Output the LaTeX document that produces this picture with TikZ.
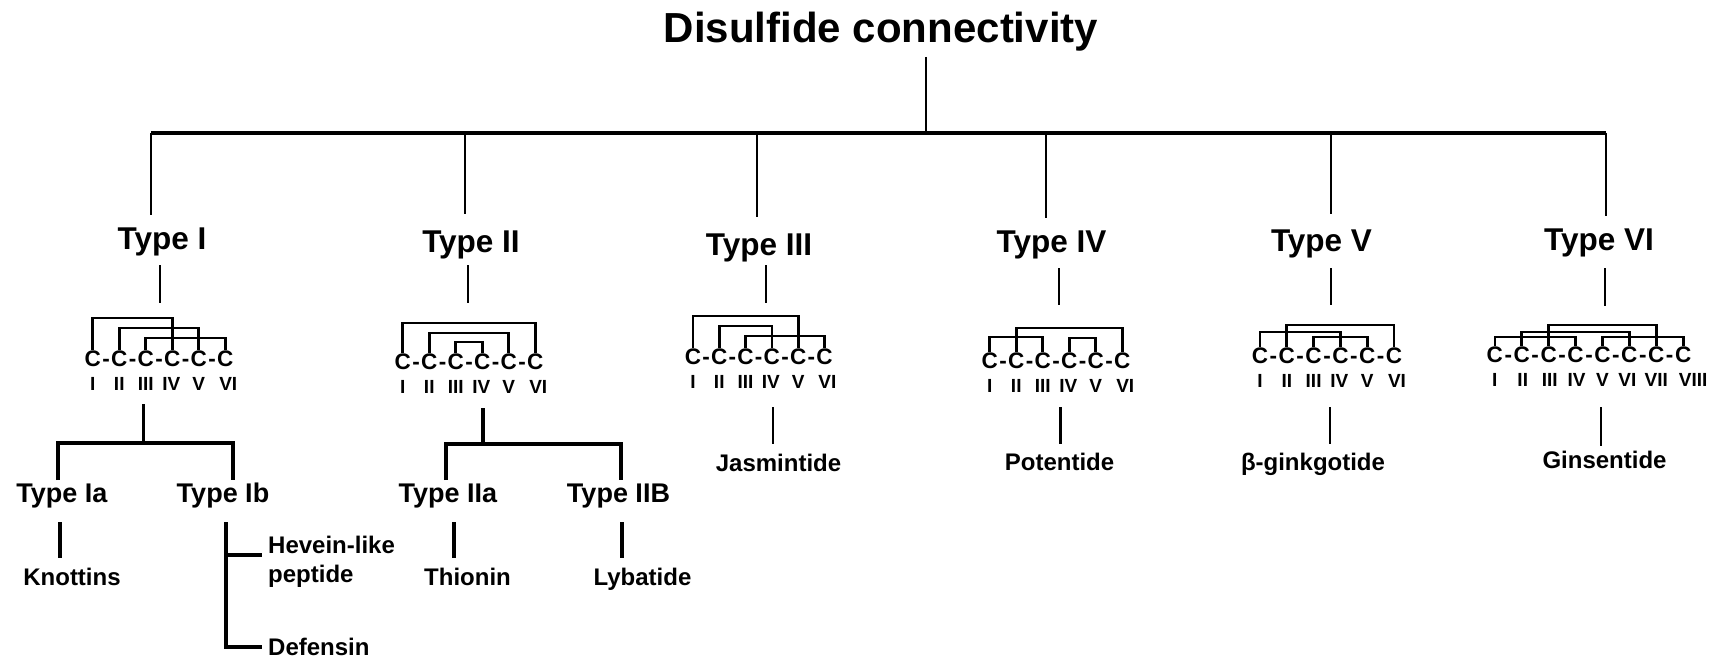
\documentclass[tikz,border=0pt]{standalone}
\usepackage{fontspec}
\setmainfont{Liberation Sans}
\tikzset{
  txt/.style={inner sep=0pt, anchor=base},
  titletxt/.style={txt, font=\fontsize{42}{50}\selectfont\bfseries},
  typetxt/.style={txt, font=\fontsize{31.5}{36}\selectfont\bfseries},
  subtxt/.style={txt, font=\fontsize{27}{32}\selectfont\bfseries},
  leaftxt/.style={txt, font=\fontsize{24}{29}\selectfont\bfseries},
  ctxt/.style={txt, font=\fontsize{22.5}{26}\selectfont\bfseries},
  numtxt/.style={txt, font=\fontsize{19}{23}\selectfont\bfseries},
  barline/.style={line width=4.5pt},
  stem/.style={line width=2.8pt},
  subline/.style={line width=3.3pt},
  bondline/.style={line width=2.7pt},
}
% #1 name, #2 cx, #3 cy, #4 spacing, #5 (n+1)/2, #6 list k/roman/numeral shift
\newcommand{\cchain}[6]{%
  \foreach \k/\r/\s in {#6}{
    \node[ctxt] (#1c\k) at ({#2+(\k-#5)*#4},{#3+8}) {C};
    \node[numtxt] (#1n\k) at ({#2+(\k-#5)*#4+\s},{#3+32}) {\r};
    \coordinate (#1l\k) at ({#2+(\k-#5)*#4},{#3-8.5});
    \ifnum\k>1
      \node[ctxt] (#1h\k) at ({#2+(\k-#5-0.5)*#4},{#3+8}) {-};
    \fi
  }%
}
\newcommand{\bond}[4]{%
  \path (0,#4) coordinate (lvl);
  \draw[bondline] (#1l#2) -- (#1l#2 |- lvl) -| (#1l#3);%
}
\begin{document}
\begin{tikzpicture}[x=1pt,y=-1pt]
\useasboundingbox (0,0) rectangle (1719,658);

% title and main bar
\node[titletxt] (title) at (881,43) {Disulfide connectivity};
\coordinate (root) at (926,57);
\coordinate (barL) at (151,133);
\coordinate (barR) at (1606,133);
\draw[stem] (root) -- (root |- barL);
\draw[barline] (barL) -- (barR);

\foreach \n/\x/\yb in {1/151/215,2/465/214,3/757/217,4/1046/218,5/1331/214,6/1606/216}{
  \coordinate (dropa\n) at (\x,133);
  \coordinate (dropb\n) at (\x,\yb);
  \draw[stem] (dropa\n) -- (dropb\n);
}

% type labels
\node[typetxt] (T1) at (162,249) {Type I};
\node[typetxt] (T2) at (471,252) {Type II};
\node[typetxt] (T3) at (759,255) {Type III};
\node[typetxt] (T4) at (1051.5,252) {Type IV};
\node[typetxt] (T5) at (1321.5,251) {Type V};
\node[typetxt] (T6) at (1599,250) {Type VI};

\foreach \n/\x/\ya/\yb in {1/160/265/303,2/468/265/303,3/766/265/303,4/1059/268/305,5/1331/268/305,6/1605/268/306}{
  \coordinate (sda\n) at (\x,\ya);
  \coordinate (sdb\n) at (\x,\yb);
  \draw[stem] (sda\n) -- (sdb\n);
}

% cysteine chains
\cchain{t1}{159}{358}{26.5}{3.5}{1/I/0,2/II/0,3/III/0,4/IV/-1,5/V/0,6/VI/3}
\cchain{t2}{469}{361}{26.5}{3.5}{1/I/0,2/II/0,3/III/0,4/IV/-1,5/V/0,6/VI/3}
\cchain{t3}{758.7}{356}{26.3}{3.5}{1/I/0,2/II/0,3/III/0,4/IV/-1,5/V/0,6/VI/3}
\cchain{t4}{1056}{360}{26.5}{3.5}{1/I/0,2/II/0,3/III/0,4/IV/-1,5/V/0,6/VI/3}
\cchain{t5}{1327}{355}{26.8}{3.5}{1/I/0,2/II/0,3/III/0,4/IV/-1,5/V/0,6/VI/3}
\cchain{t6}{1589}{354}{26.9}{4.5}{1/I/0,2/II/1,3/III/1,4/IV/1,5/V/0,6/VI/-2,7/VII/0,8/VIII/10}

% disulfide bonds
\bond{t1}{1}{4}{318}
\bond{t1}{2}{5}{328}
\bond{t1}{3}{6}{338}
\bond{t2}{1}{6}{323}
\bond{t2}{2}{5}{333}
\bond{t2}{3}{4}{342}
\bond{t3}{1}{5}{316}
\bond{t3}{2}{4}{326}
\bond{t3}{3}{6}{336}
\bond{t4}{2}{6}{328}
\bond{t4}{1}{3}{337}
\bond{t4}{4}{5}{338}
\bond{t5}{2}{6}{325}
\bond{t5}{1}{4}{332}
\bond{t5}{3}{5}{337}
\bond{t6}{3}{7}{325}
\bond{t6}{2}{6}{332}
\bond{t6}{1}{4}{337}
\bond{t6}{5}{8}{337}

% drops below chains
\foreach \n/\x/\ya/\yb in {1/143.5/404/443,2/483/408/444,3/773/407/444,4/1060.5/407/444,5/1330/407/444,6/1601/407/446}{
  \coordinate (lda\n) at (\x,\ya);
  \coordinate (ldb\n) at (\x,\yb);
}
\draw[subline] (lda1) -- (ldb1);
\draw[subline] (lda2) -- (ldb2);
\foreach \n in {3,4,5,6}{ \draw[stem] (lda\n) -- (ldb\n); }

% leaves of types III-VI
\node[leaftxt] (jas) at (778.5,471.5) {Jasmintide};
\node[leaftxt] (pot) at (1059.5,470) {Potentide};
\node[leaftxt] (gink) at (1313,470) {β-ginkgotide};
\node[leaftxt] (gins) at (1604.5,468) {Ginsentide};

% subtree of Type I
\coordinate (s1L) at (58,443);
\coordinate (s1R) at (233,443);
\coordinate (s1Lb) at (58,480);
\coordinate (s1Rb) at (233,480);
\draw[subline] (s1Lb) -- (s1L) -- (s1R) -- (s1Rb);
\node[subtxt] (Ia) at (62,502.7) {Type Ia};
\node[subtxt] (Ib) at (223,502.7) {Type Ib};
\coordinate (kna) at (60,522);
\coordinate (knb) at (60,558);
\draw[subline] (kna) -- (knb);
\node[leaftxt] (knot) at (72,585.7) {Knottins};
\coordinate (iba) at (226,522);
\coordinate (ibb) at (226,647);
\coordinate (hevj) at (226,555);
\coordinate (heve) at (262,555);
\coordinate (defe) at (262,647);
\draw[subline] (iba) -- (ibb) -- (defe);
\draw[subline] (hevj) -- (heve);
\node[leaftxt, anchor=base west] (hev) at (268,553.3) {Hevein-like};
\node[leaftxt, anchor=base west] (pep) at (268,582.3) {peptide};
\node[leaftxt, anchor=base west] (def) at (268,655) {Defensin};

% subtree of Type II
\coordinate (s2L) at (446,444);
\coordinate (s2R) at (621,444);
\coordinate (s2Lb) at (446,480);
\coordinate (s2Rb) at (621,480);
\draw[subline] (s2Lb) -- (s2L) -- (s2R) -- (s2Rb);
\node[subtxt] (IIa) at (448,502.7) {Type IIa};
\node[subtxt] (IIb) at (618.5,502.7) {Type IIB};
\coordinate (tha) at (454,522);
\coordinate (thb) at (454,558);
\draw[subline] (tha) -- (thb);
\node[leaftxt] (thio) at (467.5,585.7) {Thionin};
\coordinate (lya) at (622,522);
\coordinate (lyb) at (622,558);
\draw[subline] (lya) -- (lyb);
\node[leaftxt] (lyba) at (642.5,585.7) {Lybatide};
\end{tikzpicture}
\end{document}
